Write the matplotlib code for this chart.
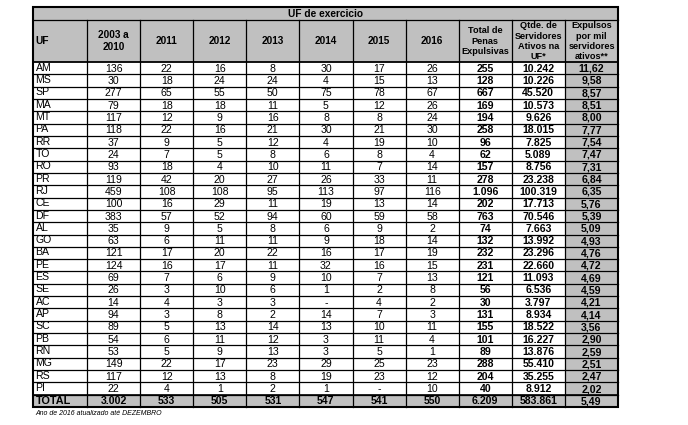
import matplotlib
matplotlib.use("Agg")
import matplotlib.pyplot as plt
from matplotlib.patches import Rectangle
from matplotlib import font_manager

# ---------------- data ----------------
title = "UF de exercicio"
col_headers = ["UF", "2003 a\n2010", "2011", "2012", "2013", "2014", "2015", "2016",
               "Total de\nPenas\nExpulsivas", "Qtde. de\nServidores\nAtivos na\nUF*",
               "Expulsos\npor mil\nservidores\nativos**"]
uf = ["AM", "MS", "SP", "MA", "MT", "PA", "RR", "TO", "RO", "PR", "RJ", "CE", "DF", "AL",
      "GO", "BA", "PE", "ES", "SE", "AC", "AP", "SC", "PB", "RN", "MG", "RS", "PI"]
y2003_2010 = [136, 30, 277, 79, 117, 118, 37, 24, 93, 119, 459, 100, 383, 35, 63, 121, 124,
              69, 26, 14, 94, 89, 54, 53, 149, 117, 22]
y2011 = [22, 18, 65, 18, 12, 22, 9, 7, 18, 42, 108, 16, 57, 9, 6, 17, 16, 7, 3, 4, 3, 5, 6,
         5, 22, 12, 4]
y2012 = [16, 24, 55, 18, 9, 16, 5, 5, 4, 20, 108, 29, 52, 5, 11, 20, 17, 6, 10, 3, 8, 13, 11,
         9, 17, 13, 1]
y2013 = [8, 24, 50, 11, 16, 21, 12, 8, 10, 27, 95, 11, 94, 8, 11, 22, 11, 9, 6, 3, 2, 14, 12,
         13, 23, 8, 2]
y2014 = [30, 4, 75, 5, 8, 30, 4, 6, 11, 26, 113, 19, 60, 6, 9, 16, 32, 10, 1, 0, 14, 13, 3,
         3, 29, 19, 1]
y2015 = [17, 15, 78, 12, 8, 21, 19, 8, 7, 33, 97, 13, 59, 9, 18, 17, 16, 7, 2, 4, 7, 10, 11,
         5, 25, 23, 0]
y2016 = [26, 13, 67, 26, 24, 30, 10, 4, 14, 11, 116, 14, 58, 2, 14, 19, 15, 13, 8, 2, 3, 11,
         4, 1, 23, 12, 10]
total_penas = [255, 128, 667, 169, 194, 258, 96, 62, 157, 278, 1096, 202, 763, 74, 132, 232,
               231, 121, 56, 30, 131, 155, 101, 89, 288, 204, 40]
servidores = [10242, 10226, 45520, 10573, 9626, 18015, 7825, 5089, 8756, 23238, 100319, 17713,
              70546, 7663, 13992, 23296, 22660, 11093, 6536, 3797, 8934, 18522, 16227, 13876,
              55410, 35255, 8912]
expulsos_mil = [11.62, 9.58, 8.57, 8.51, 8.00, 7.77, 7.54, 7.47, 7.31, 6.84, 6.35, 5.76, 5.39,
                5.09, 4.93, 4.76, 4.72, 4.69, 4.59, 4.21, 4.14, 3.56, 2.90, 2.59, 2.51, 2.47,
                2.02]
total_row = ["TOTAL", 3002, 533, 505, 531, 547, 541, 550, 6209, 583861, 5.49]
footnote = "Ano de 2016 atualizado até DEZEMBRO"


def fmt_int(v):
    if v == 0:
        return "-"
    return f"{v:,}".replace(",", ".")


def fmt_dec(v):
    return f"{v:.2f}".replace(".", ",")


# ---------------- fonts ----------------
names = {f.name for f in font_manager.fontManager.ttflist}
fam = ["Liberation Sans Narrow", "Liberation Sans"] if "Liberation Sans Narrow" in names \
    else ["Liberation Sans"]

# ---------------- layout (pixel space) ----------------
W, H = 688, 425
fig = plt.figure(figsize=(W / 100, H / 100), dpi=100)
ax = fig.add_axes([0, 0, 1, 1])
ax.set_xlim(0, W)
ax.set_ylim(H, 0)
ax.axis("off")

grey = "#c0c0c0"
x0, x_uf = 33.0, 87.0
x_right = 618.0
cw = (x_right - x_uf) / 10
xs = [x0, x_uf] + [x_uf + cw * (i + 1) for i in range(10)]
y_top, y_title, y_head = 7.0, 19.5, 62.0
nrows = len(uf) + 1
y_bottom = 407.0
rh = (y_bottom - y_head) / nrows
ys = [y_head + rh * i for i in range(nrows + 1)]

# backgrounds
ax.add_patch(Rectangle((x0, y_top), x_right - x0, y_head - y_top, facecolor=grey, edgecolor="none"))
ax.add_patch(Rectangle((xs[10], y_head), xs[11] - xs[10], ys[-1] - y_head, facecolor=grey, edgecolor="none"))
ax.add_patch(Rectangle((x0, ys[-2]), x_right - x0, rh, facecolor=grey, edgecolor="none"))

lw = 0.9
for y in [y_title] + ys[1:-1]:
    ax.plot([x0, x_right], [y, y], color="black", lw=lw)
ax.plot([x0, x_right], [y_head, y_head], color="black", lw=1.3)
ax.plot([x0, x_right], [ys[-2], ys[-2]], color="black", lw=1.2)
for x in xs[1:-1]:
    ax.plot([x, x], [y_title, y_bottom], color="black", lw=lw)
ax.add_patch(Rectangle((x0, y_top), x_right - x0, y_bottom - y_top, facecolor="none",
                       edgecolor="black", lw=1.5))

# title
ax.text((x0 + x_right) / 2, (y_top + y_title) / 2 + 0.5, title, ha="center", va="center",
        fontsize=7.3, fontweight="bold", family=fam)
# headers
for i, h in enumerate(col_headers):
    if i == 0:
        ax.text(x0 + 2.5, (y_title + y_head) / 2, h, ha="left", va="center", fontsize=7.3,
                fontweight="bold", family=fam)
    else:
        fs = 7.2 if i <= 7 else 6.6
        ax.text((xs[i] + xs[i + 1]) / 2, (y_title + y_head) / 2 + 0.5, h, ha="center",
                va="center", fontsize=fs, fontweight="bold", family=fam, linespacing=1.2)

# data rows
cols = [y2003_2010, y2011, y2012, y2013, y2014, y2015, y2016, total_penas, servidores]
for r in range(len(uf)):
    yc = ys[r] + rh / 2 + 0.5
    ax.text(x0 + 2.5, yc - 1.0, uf[r], ha="left", va="center", fontsize=7.6, family=fam)
    for c, col in enumerate(cols):
        bold = c >= 7
        ax.text((xs[c + 1] + xs[c + 2]) / 2, yc, fmt_int(col[r]), ha="center", va="center",
                fontsize=7.6, family=fam, fontweight="bold" if bold else "normal")
    ax.text((xs[10] + xs[11]) / 2, yc, fmt_dec(expulsos_mil[r]), ha="center", va="center",
            fontsize=7.6, family=fam, fontweight="bold")

# total row
yc = ys[-2] + rh / 2 + 0.5
ax.text(x0 + 2.5, yc, total_row[0], ha="left", va="center", fontsize=7.8, family=fam,
        fontweight="bold")
for c in range(1, 10):
    ax.text((xs[c] + xs[c + 1]) / 2, yc, fmt_int(total_row[c]), ha="center", va="center",
            fontsize=7.6, family=fam, fontweight="bold")
ax.text((xs[10] + xs[11]) / 2, yc, fmt_dec(total_row[10]), ha="center", va="center",
        fontsize=7.6, family=fam, fontweight="bold")

# footnote
ax.text(x0 + 2, 413.5, footnote, ha="left", va="center", fontsize=5.0, style="italic",
        family=fam)

fig.savefig("out.png", dpi=100)
